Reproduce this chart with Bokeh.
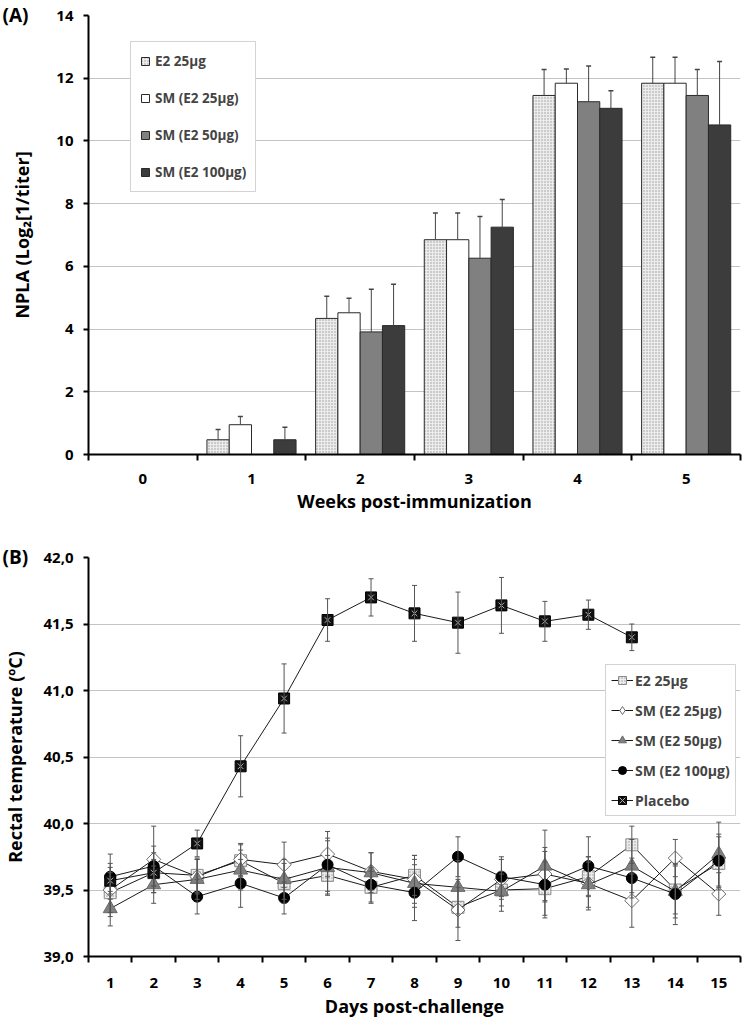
import math
from bokeh.plotting import figure
from bokeh.layouts import column
from bokeh.models import (ColumnDataSource, FixedTicker, Legend, LegendItem, Whisker,
                          TeeHead, Range1d, CustomJSTickFormatter)
from bokeh.embed import file_html
from bokeh.resources import INLINE
from bokeh.transform import dodge

# ---------------- Panel A data ----------------
weeks = [0, 1, 2, 3, 4, 5]
npla_ticks = [0, 2, 4, 6, 8, 10, 12, 14]
groups_a = ["E2 25µg", "SM (E2 25µg)", "SM (E2 50µg)", "SM (E2 100µg)"]
npla_e2_25 = [0, 0.47, 4.34, 6.85, 11.45, 11.84]
npla_e2_25_err = [0, 0.33, 0.71, 0.85, 0.83, 0.83]
npla_sm_25 = [0, 0.95, 4.52, 6.85, 11.84, 11.84]
npla_sm_25_err = [0, 0.26, 0.46, 0.85, 0.45, 0.83]
npla_sm_50 = [0, 0, 3.91, 6.26, 11.25, 11.45]
npla_sm_50_err = [0, 0, 1.36, 1.33, 1.14, 0.83]
npla_sm_100 = [0, 0.47, 4.11, 7.25, 11.04, 10.51]
npla_sm_100_err = [0, 0.40, 1.32, 0.88, 0.56, 2.02]

# ---------------- Panel B data ----------------
days = list(range(1, 16))
temp_ticks = [39.0, 39.5, 40.0, 40.5, 41.0, 41.5, 42.0]
groups_b = ["E2 25µg", "SM (E2 25µg)", "SM (E2 50µg)", "SM (E2 100µg)", "Placebo"]
temp_e2_25 = [39.48, 39.63, 39.61, 39.72, 39.55, 39.61, 39.52, 39.61, 39.37, 39.50, 39.51, 39.60, 39.84, 39.50, 39.70]
temp_e2_25_err = [0.15, 0.15, 0.13, 0.12, 0.15, 0.15, 0.12, 0.15, 0.15, 0.12, 0.20, 0.15, 0.14, 0.18, 0.20]
temp_sm_25 = [39.50, 39.73, 39.60, 39.73, 39.69, 39.77, 39.64, 39.58, 39.35, 39.58, 39.62, 39.55, 39.42, 39.74, 39.47]
temp_sm_25_err = [0.20, 0.25, 0.13, 0.12, 0.17, 0.17, 0.14, 0.18, 0.23, 0.15, 0.20, 0.20, 0.20, 0.14, 0.16]
temp_sm_50 = [39.36, 39.54, 39.58, 39.65, 39.58, 39.67, 39.63, 39.55, 39.52, 39.49, 39.68, 39.54, 39.68, 39.49, 39.77]
temp_sm_50_err = [0.13, 0.14, 0.15, 0.15, 0.15, 0.20, 0.15, 0.18, 0.20, 0.15, 0.27, 0.17, 0.20, 0.20, 0.24]
temp_sm_100 = [39.60, 39.68, 39.45, 39.55, 39.44, 39.69, 39.54, 39.48, 39.75, 39.60, 39.54, 39.68, 39.59, 39.47, 39.72]
temp_sm_100_err = [0.17, 0.15, 0.13, 0.18, 0.12, 0.20, 0.13, 0.21, 0.15, 0.15, 0.25, 0.22, 0.15, 0.23, 0.20]
placebo_days = list(range(1, 14))
temp_placebo = [39.57, 39.63, 39.85, 40.43, 40.94, 41.53, 41.70, 41.58, 41.51, 41.64, 41.52, 41.57, 41.40]
temp_placebo_err = [0.10, 0.10, 0.10, 0.23, 0.26, 0.16, 0.14, 0.21, 0.23, 0.21, 0.15, 0.11, 0.10]

FONT = "Open Sans"

def style_axes(p):
    p.outline_line_color = None
    p.background_fill_color = "white"
    p.border_fill_color = "white"
    p.xgrid.grid_line_color = None
    p.ygrid.grid_line_color = "#c4c4c4"
    p.ygrid.grid_line_width = 1
    for ax in (p.xaxis[0], p.yaxis[0]):
        ax.axis_line_color = "black"
        ax.axis_line_width = 2
        ax.major_label_text_font = FONT
        ax.major_label_text_font_style = "bold"
        ax.major_label_text_font_size = "15px"
        ax.major_label_text_color = "black"
        ax.axis_label_text_font = FONT
        ax.axis_label_text_font_style = "bold"
        ax.axis_label_text_font_size = "18px"
        ax.axis_label_text_color = "black"
    xa = p.xaxis[0]
    xa.major_tick_line_color = None
    xa.major_tick_out = 0
    xa.major_tick_in = 0
    xa.minor_tick_line_color = "black"
    xa.minor_tick_line_width = 2
    xa.minor_tick_out = 6
    xa.minor_tick_in = 0
    ya = p.yaxis[0]
    ya.major_tick_line_color = "black"
    ya.major_tick_line_width = 2
    ya.major_tick_out = 5
    ya.major_tick_in = 0
    ya.minor_tick_line_color = None

def panel_title(p, text):
    t = p.title
    t.text = text
    t.align = "left"
    t.offset = -86
    t.vertical_align = "middle"
    t.standoff = -26
    t.text_font = FONT
    t.text_font_style = "bold"
    t.text_font_size = "19px"
    t.text_color = "black"

# ======================= Panel A =======================
pA = figure(width=742, height=528, x_range=Range1d(-0.5, 5.5), y_range=Range1d(0, 14),
            output_backend="svg", toolbar_location=None,
            min_border_left=88, min_border_right=2, min_border_top=15, min_border_bottom=74)
style_axes(pA)
panel_title(pA, "(A)")
pA.xaxis.ticker = FixedTicker(ticks=weeks, minor_ticks=[w - 0.5 for w in weeks] + [weeks[-1] + 0.5])
pA.yaxis.ticker = FixedTicker(ticks=npla_ticks)
pA.xaxis.axis_label = "Weeks post-immunization"
pA.yaxis.axis_label = "NPLA (Log₂[1/titer]"
pA.xaxis.major_label_standoff = 13
pA.xaxis.axis_label_standoff = 2
pA.yaxis.major_label_standoff = 10
pA.yaxis.axis_label_standoff = 19

bar_w = 0.205
offsets = [-1.5 * bar_w, -0.5 * bar_w, 0.5 * bar_w, 1.5 * bar_w]
series_a = [(npla_e2_25, npla_e2_25_err), (npla_sm_25, npla_sm_25_err),
            (npla_sm_50, npla_sm_50_err), (npla_sm_100, npla_sm_100_err)]
bar_styles = [
    dict(fill_color="#ececec", hatch_pattern="dot", hatch_color="#999999", hatch_scale=3, hatch_weight=0.6),
    dict(fill_color="white"),
    dict(fill_color="#808080"),
    dict(fill_color="#3c3c3c"),
]
legend_a_items = []
for (vals, errs), off, st, name in zip(series_a, offsets, bar_styles, groups_a):
    src = ColumnDataSource(dict(week=weeks, val=vals))
    r = pA.vbar(x=dodge("week", off, range=pA.x_range), top="val", width=bar_w, bottom=0,
                source=src, line_color="#2a2a2a", line_width=1, **st)
    legend_a_items.append(LegendItem(label=name, renderers=[r]))
    keep = [i for i, v in enumerate(vals) if v > 0]
    esrc = ColumnDataSource(dict(week=[weeks[i] for i in keep], val=[vals[i] for i in keep],
                                 up=[vals[i] + errs[i] for i in keep]))
    wk = Whisker(base=dodge("week", off, range=pA.x_range), lower="val", upper="up", source=esrc,
                 dimension="height", line_color="#444444", line_width=1, level="overlay",
                 upper_head=TeeHead(size=5, line_color="#444444", line_width=1.5), lower_head=None)
    pA.add_layout(wk)

leg_a = Legend(items=legend_a_items, location=(42, 262), orientation="vertical",
               label_text_font=FONT, label_text_font_style="bold", label_text_font_size="13.5px",
               label_height=20, glyph_height=10, glyph_width=10, label_standoff=5,
               spacing=17, padding=9, margin=0,
               border_line_color="#a8a8a8", border_line_width=1,
               background_fill_color="white", background_fill_alpha=1)
pA.add_layout(leg_a, "center")

# ======================= Panel B =======================
pB = figure(width=742, height=492, x_range=Range1d(0.5, 15.5), y_range=Range1d(39, 42),
            output_backend="svg", toolbar_location=None,
            min_border_left=88, min_border_right=2, min_border_top=29, min_border_bottom=61)
style_axes(pB)
panel_title(pB, "(B)")
pB.xaxis.ticker = FixedTicker(ticks=days, minor_ticks=[d - 0.5 for d in days] + [days[-1] + 0.5])
pB.yaxis.ticker = FixedTicker(ticks=temp_ticks)
pB.yaxis.formatter = CustomJSTickFormatter(code="return tick.toFixed(1).replace('.', ',');")
pB.xaxis.axis_label = "Days post-challenge"
pB.yaxis.axis_label = "Rectal temperature (ºC)"
pB.xaxis.major_label_standoff = 15
pB.xaxis.axis_label_standoff = 3
pB.yaxis.major_label_standoff = 10
pB.yaxis.axis_label_standoff = 13

series_b = [
    (days, temp_e2_25, temp_e2_25_err),
    (days, temp_sm_25, temp_sm_25_err),
    (days, temp_sm_50, temp_sm_50_err),
    (days, temp_sm_100, temp_sm_100_err),
    (placebo_days, temp_placebo, temp_placebo_err),
]
marker_styles = [
    [dict(marker="square", size=12, fill_color="#ececec", line_color="#8c8c8c", line_width=1,
          hatch_pattern="dot", hatch_color="#9a9a9a", hatch_scale=3, hatch_weight=0.6)],
    [dict(marker="square", size=10, angle=math.pi / 4, fill_color="white", line_color="#6e6e6e", line_width=1)],
    [dict(marker="triangle", size=14, fill_color="#808080", line_color="#6a6a6a", line_width=1)],
    [dict(marker="circle", size=11, fill_color="black", line_color="black", line_width=1)],
    [dict(marker="square", size=11, fill_color="#111111", line_color="black", line_width=1),
     dict(marker="x", size=8, fill_color=None, line_color="#b0b0b0", line_width=1)],
]
# legend-only glyph shapes (legend glyphs are drawn unrotated)
legend_only = [None, dict(marker="diamond", fill_color="white", line_color="#6e6e6e", line_width=1),
               None, None, None]

for (xs, ys, es) in series_b:
    src = ColumnDataSource(dict(x=xs, lo=[y - e for y, e in zip(ys, es)], hi=[y + e for y, e in zip(ys, es)]))
    pB.add_layout(Whisker(base="x", lower="lo", upper="hi", source=src, dimension="height",
                          line_color="#555555", line_width=1, level="glyph",
                          upper_head=TeeHead(size=5, line_color="#555555", line_width=1),
                          lower_head=TeeHead(size=5, line_color="#555555", line_width=1)))

legend_b_items = []
for (xs, ys, es), mstyles, lonly, name in zip(series_b, marker_styles, legend_only, groups_b):
    src = ColumnDataSource(dict(x=xs, y=ys))
    rl = pB.line("x", "y", source=src, line_color="#1a1a1a", line_width=1)
    rends = [rl]
    plot_marks = [pB.scatter("x", "y", source=src, **ms) for ms in mstyles]
    if lonly is None:
        rends += plot_marks
    else:
        # a single not-a-number point: nothing is drawn in the plot, only in the legend
        blank = ColumnDataSource(dict(x=[float("nan")], y=[float("nan")]))
        rends.append(pB.scatter("x", "y", source=blank, **lonly))
    legend_b_items.append(LegendItem(label=name, renderers=rends))

leg_b = Legend(items=legend_b_items, location=(517, 140), orientation="vertical",
               label_text_font=FONT, label_text_font_style="bold", label_text_font_size="14px",
               label_height=20, glyph_height=20, glyph_width=22, label_standoff=2,
               spacing=10, padding=5, margin=0,
               border_line_color="#a8a8a8", border_line_width=1,
               background_fill_color="white", background_fill_alpha=1)
pB.add_layout(leg_b, "center")

layout = column(pA, pB, spacing=0)
open("out.html", "w").write(file_html(layout, INLINE))
